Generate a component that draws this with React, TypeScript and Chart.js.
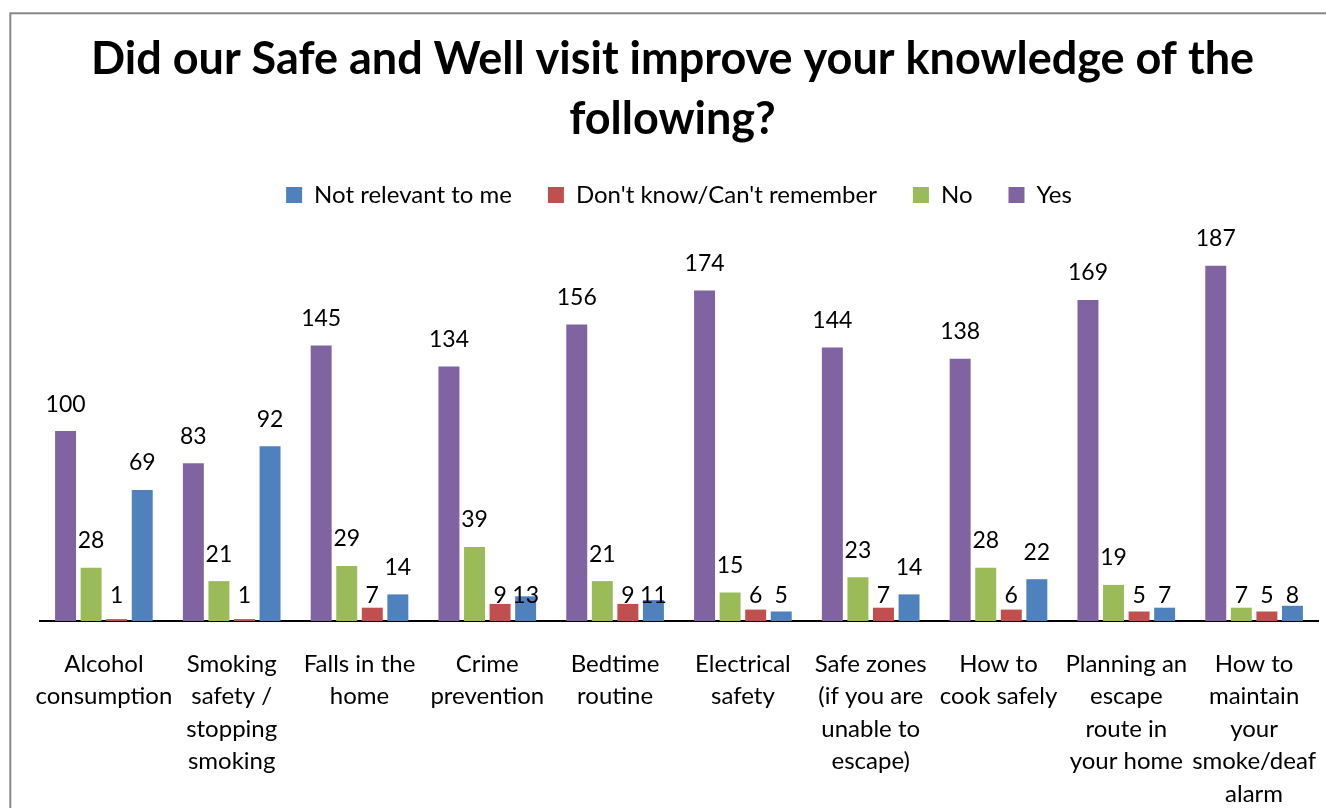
import React, { useEffect, useRef } from "react";
import { Chart, registerables } from "chart.js";

Chart.register(...registerables);

const titleLines = [
  "Did our Safe and Well visit improve your knowledge of the",
  "following?",
];

const categories: string[][] = [
  ["Alcohol", "consumption"],
  ["Smoking", "safety /", "stopping", "smoking"],
  ["Falls in the", "home"],
  ["Crime", "prevention"],
  ["Bedtime", "routine"],
  ["Electrical", "safety"],
  ["Safe zones", "(if you are", "unable to", "escape)"],
  ["How to", "cook safely"],
  ["Planning an", "escape", "route in", "your home"],
  ["How to", "maintain", "your", "smoke/deaf", "alarm"],
];

const seriesNames = ["Yes", "No", "Don't know/Can't remember", "Not relevant to me"];
const yesValues = [100, 83, 145, 134, 156, 174, 144, 138, 169, 187];
const noValues = [28, 21, 29, 39, 21, 15, 23, 28, 19, 7];
const dontKnowValues = [1, 1, 7, 9, 9, 6, 7, 6, 5, 5];
const notRelevantValues = [69, 92, 14, 13, 11, 5, 14, 22, 7, 8];
const seriesColors = ["#8064A2", "#9BBB59", "#C0504D", "#4F81BD"];

const FONT = "Lato, 'Open Sans', sans-serif";

const framePlugin = {
  id: "frame",
  beforeDraw(chart: any) {
    const ctx = chart.ctx;
    ctx.save();
    ctx.fillStyle = "#ffffff";
    ctx.fillRect(0, 0, chart.width, chart.height);
    ctx.strokeStyle = "#878787";
    ctx.lineWidth = 2;
    ctx.strokeRect(10.3, 13.3, chart.width + 100, chart.height + 100);
    ctx.restore();
  },
};

const layoutTweakPlugin = {
  id: "layoutTweak",
  beforeLayout(chart: any) {
    const lg = chart.legend;
    if (lg && !lg._gapPatched) {
      const orig = lg.fit;
      lg.fit = function () {
        orig.call(this);
        this.height += 20;
      };
      lg._gapPatched = true;
    }
  },
  afterLayout(chart: any) {
    const tb = chart.titleBlock;
    if (tb) {
      tb.left = 19;
      tb.right = chart.width;
    }
    const lg = chart.legend;
    if (lg) {
      lg.top -= 4;
    }
  },
};

const valueLabelPlugin = {
  id: "valueLabels",
  afterDatasetsDraw(chart: any) {
    const ctx = chart.ctx;
    const yScale = chart.scales.y;
    const lowLimit = yScale.getPixelForValue(13.5);
    ctx.save();
    ctx.font = `23px ${FONT}`;
    ctx.fillStyle = "#000000";
    ctx.textAlign = "center";
    ctx.textBaseline = "alphabetic";
    chart.data.datasets.forEach((ds: any, di: number) => {
      const meta = chart.getDatasetMeta(di);
      meta.data.forEach((bar: any, i: number) => {
        const v = ds.data[i];
        const y = bar.y <= lowLimit ? bar.y - 19.5 : bar.base - 18.5;
        ctx.fillText(String(v), bar.x, y);
      });
    });
    ctx.restore();
  },
};

export default function App() {
  const canvasRef = useRef<HTMLCanvasElement | null>(null);

  useEffect(() => {
    if (!canvasRef.current) return;
    const values = [yesValues, noValues, dontKnowValues, notRelevantValues];
    const chart = new Chart(canvasRef.current, {
      type: "bar",
      data: {
        labels: categories,
        datasets: seriesNames.map((name, i) => ({
          label: name,
          data: values[i],
          backgroundColor: seriesColors[i],
          borderWidth: 0,
          categoryPercentage: 0.8,
          barPercentage: 0.82,
        })),
      },
      options: {
        responsive: false,
        animation: false,
        devicePixelRatio: 1,
        layout: { padding: { left: 40, right: 8, top: 0, bottom: 0 } },
        plugins: {
          title: {
            display: true,
            text: titleLines,
            color: "#000000",
            font: { family: FONT, size: 45, weight: "bold", lineHeight: "60px" },
            padding: { top: 29, bottom: 2 },
          },
          legend: {
            display: true,
            position: "top",
            reverse: true,
            labels: {
              boxWidth: 16,
              boxHeight: 16,
              padding: 36,
              color: "#000000",
              font: { family: FONT, size: 24 },
            },
          },
          tooltip: { enabled: false },
        },
        scales: {
          x: {
            grid: { display: false, drawTicks: false },
            border: { display: true, color: "#000000", width: 2 },
            ticks: {
              autoSkip: false,
              maxRotation: 0,
              minRotation: 0,
              padding: 27,
              color: "#000000",
              font: { family: FONT, size: 24, lineHeight: "32.5px" },
            },
            afterFit: (scale: any) => {
              scale.height = 187;
              scale.paddingLeft = 0;
              scale.paddingRight = 0;
            },
          },
          y: {
            display: false,
            min: 0,
            max: 200,
          },
        },
      },
      plugins: [framePlugin, layoutTweakPlugin, valueLabelPlugin],
    } as any);
    return () => chart.destroy();
  }, []);

  return (
    <div style={{ position: "absolute", left: 0, top: 0, width: 1326, height: 808 }}>
      <canvas ref={canvasRef} width={1326} height={808} />
    </div>
  );
}
